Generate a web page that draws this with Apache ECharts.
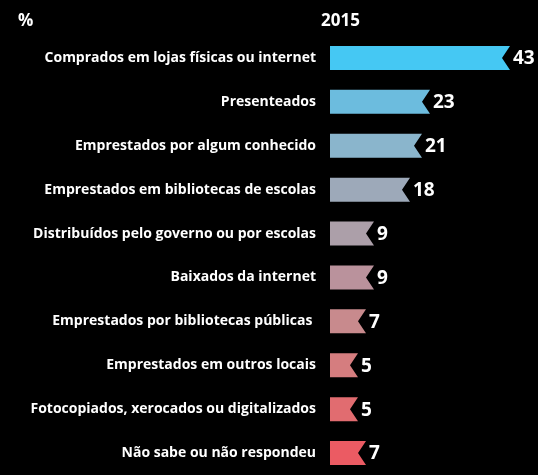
<!DOCTYPE html>
<html><head><meta charset="utf-8">
<script src="https://cdn.jsdelivr.net/npm/echarts@6/dist/echarts.min.js"></script>
<style>html,body{margin:0;padding:0;background:#000;}#c{width:538px;height:475px;}</style>
</head><body><div id="c"></div>
<script>
const categories = [
  'Comprados em lojas físicas ou internet',
  'Presenteados',
  'Emprestados por algum conhecido',
  'Emprestados em bibliotecas de escolas',
  'Distribuídos pelo governo ou por escolas',
  'Baixados da internet',
  'Emprestados por bibliotecas públicas ',
  'Emprestados em outros locais',
  'Fotocopiados, xerocados ou digitalizados',
  'Não sabe ou não respondeu'
];
const values2015 = [43, 23, 21, 18, 9, 9, 7, 5, 5, 7];
const barColors = ['#45C8F3','#6CBCDE','#8AB5CC','#9DA9B9','#AC9FA9','#BA929C','#C88A8D','#D57D7F','#E16C70','#EB5B63'];
const unitLabel = '%';
const yearLabel = '2015';

const FONT = '"Open Sans"';
const chart = echarts.init(document.getElementById('c'));
const xMin = -2;
chart.setOption({
  backgroundColor: '#000',
  animation: false,
  title: [
    {text: unitLabel, left: 13, top: 8, textStyle: {color: '#fff', fontFamily: FONT, fontWeight: 'bold', fontSize: 17}},
    {text: yearLabel, left: 316, top: 8, textStyle: {color: '#fff', fontFamily: FONT, fontWeight: 'bold', fontSize: 17}}
  ],
  grid: {left: 330, top: 36, width: 208, height: 440},
  xAxis: {type: 'value', min: xMin, max: 50, show: false},
  yAxis: {
    type: 'category', data: categories, inverse: true,
    axisLine: {show: false}, axisTick: {show: false}, splitLine: {show: false},
    axisLabel: {color: '#fff', fontFamily: FONT, fontWeight: 'bold', fontSize: 14, margin: 14}
  },
  series: [{
    type: 'custom',
    data: values2015.map((v, i) => [v, i]),
    encode: {x: 0, y: 1},
    renderItem: function (params, api) {
      const v = api.value(0), idx = api.value(1);
      const end = api.coord([v, idx]);
      const start = api.coord([xMin, idx]);
      const h = 24, d = 8;
      const x0 = start[0], x1 = end[0], cy = end[1];
      return {
        type: 'group',
        children: [
          {type: 'polygon', shape: {points: [[x0, cy - h/2], [x1, cy - h/2], [x1 - d, cy], [x1, cy + h/2], [x0, cy + h/2]]},
           style: {fill: barColors[params.dataIndex]}},
          {type: 'text', x: x1 + 3, y: cy + 1,
           style: {text: String(v), fill: '#fff', font: 'bold 19px ' + FONT, textVerticalAlign: 'middle', textAlign: 'left'}}
        ]
      };
    }
  }]
});
</script></body></html>
